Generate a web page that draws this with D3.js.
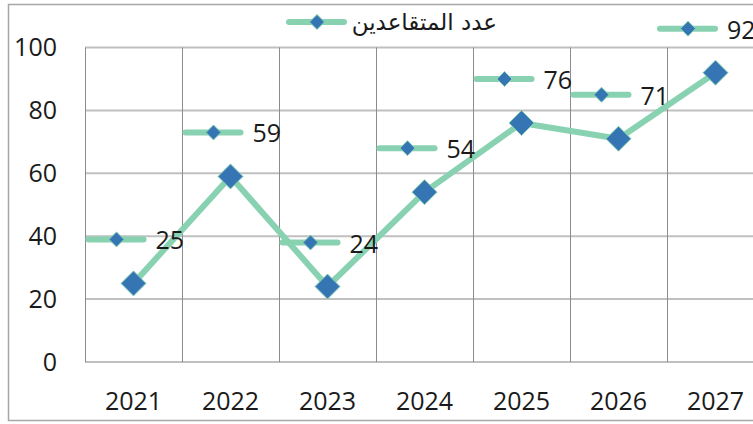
<!DOCTYPE html>
<meta charset="utf-8">
<head>
    <style>
        body {
            margin: 0;
            font-family: "Open Sans", "DejaVu Sans", sans-serif;
            background: #fff;
        }

        .grid-h {
            stroke: #c0c0c0;
            stroke-width: 2;
        }

        .grid-v {
            stroke: #8c8c8c;
            stroke-width: 1;
        }

        .tick-label {
            font-size: 25px;
            fill: #1a1a1a;
        }

        .line {
            fill: none;
            stroke: #88d2b2;
            stroke-width: 6;
            stroke-linejoin: round;
        }

        .marker {
            fill: #3675b4;
            stroke: #88d2b2;
            stroke-width: 1;
        }
    </style>
</head>
<body>
    <script src="https://cdn.jsdelivr.net/npm/d3@7"></script>
    <script>
        var years = ["2021", "2022", "2023", "2024", "2025", "2026", "2027"];
        var retirees = [25, 59, 24, 54, 76, 71, 92];
        var yTicks = [0, 20, 40, 60, 80, 100];
        var seriesName = "عدد المتقاعدين";

        var width = 753,
            height = 424;

        var svg = d3.select("body")
            .append("svg")
            .attr("width", width)
            .attr("height", height);

        // outer chart border
        svg.append("rect")
            .attr("x", 8.5)
            .attr("y", 4.5)
            .attr("width", 760)
            .attr("height", 416)
            .attr("fill", "none")
            .attr("stroke", "#a6a6a6")
            .attr("stroke-width", 1.5);

        var x = d3.scaleBand()
            .domain(years)
            .range([85, 764]);

        var y = d3.scaleLinear()
            .domain([0, 100])
            .range([362, 47.5]);

        // horizontal gridlines
        svg.selectAll(".grid-h")
            .data(yTicks)
            .enter()
            .append("line")
            .attr("class", "grid-h")
            .attr("x1", 85)
            .attr("x2", 764)
            .attr("y1", function (d) { return y(d); })
            .attr("y2", function (d) { return y(d); });

        // vertical gridlines at band edges
        var edges = years.map(function (d) { return x(d); });
        svg.selectAll(".grid-v")
            .data(edges)
            .enter()
            .append("line")
            .attr("class", "grid-v")
            .attr("x1", function (d) { return Math.round(d) + 0.5; })
            .attr("x2", function (d) { return Math.round(d) + 0.5; })
            .attr("y1", y(100))
            .attr("y2", y(0));

        // y axis labels
        svg.selectAll(".ylab")
            .data(yTicks)
            .enter()
            .append("text")
            .attr("class", "tick-label")
            .attr("x", 57)
            .attr("y", function (d) { return y(d); })
            .attr("dy", "0.35em")
            .attr("text-anchor", "end")
            .text(function (d) { return d; });

        // x axis labels
        svg.selectAll(".xlab")
            .data(years)
            .enter()
            .append("text")
            .attr("class", "tick-label")
            .attr("x", function (d) { return x(d) + x.bandwidth() / 2; })
            .attr("y", 410)
            .attr("text-anchor", "middle")
            .text(function (d) { return d; });

        var data = years.map(function (d, i) { return { year: d, value: retirees[i] }; });

        var cx = function (d) { return x(d.year) + x.bandwidth() / 2; };

        var line = d3.line()
            .x(cx)
            .y(function (d) { return y(d.value); });

        svg.append("path")
            .datum(data)
            .attr("class", "line")
            .attr("d", line);

        var diamond = function (r) {
            return "M0," + (-r) + "L" + r + ",0L0," + r + "L" + (-r) + ",0Z";
        };

        svg.selectAll(".marker")
            .data(data)
            .enter()
            .append("path")
            .attr("class", "marker")
            .attr("transform", function (d) {
                return "translate(" + cx(d) + "," + y(d.value) + ")";
            })
            .attr("d", diamond(12.5));

        // legend key (line + diamond) used in legend and labels
        function legendKey(g) {
            g.append("line")
                .attr("x1", 0)
                .attr("x2", 55)
                .attr("y1", 0)
                .attr("y2", 0)
                .attr("stroke", "#88d2b2")
                .attr("stroke-width", 6)
                .attr("stroke-linecap", "round");
            g.append("path")
                .attr("class", "marker")
                .attr("transform", "translate(28,0)")
                .attr("d", diamond(7.5));
        }

        // data labels with legend key, pushed left when they would run off the chart
        var labels = svg.selectAll(".dlabel")
            .data(data)
            .enter()
            .append("g")
            .attr("class", "dlabel")
            .attr("transform", function (d) {
                var lx = cx(d) - 45;
                var overflow = Math.max(0, lx + 95 - 755);
                return "translate(" + (lx - overflow) + "," + (y(d.value) - 44) + ")";
            });

        labels.append("g").call(legendKey);

        labels.append("text")
            .attr("class", "tick-label")
            .attr("x", 67)
            .attr("y", 0)
            .attr("dy", "0.4em")
            .text(function (d) { return d.value; });

        // legend
        var legend = svg.append("g")
            .attr("transform", "translate(289,22)");
        legend.call(legendKey);
        legend.append("text")
            .attr("x", 208)
            .attr("y", 0)
            .attr("dy", "0.35em")
            .attr("text-anchor", "end")
            .style("font-size", "23px")
            .style("font-family", "'DejaVu Sans', sans-serif")
            .attr("fill", "#1a1a1a")
            .text(seriesName);
    </script>
</body>
